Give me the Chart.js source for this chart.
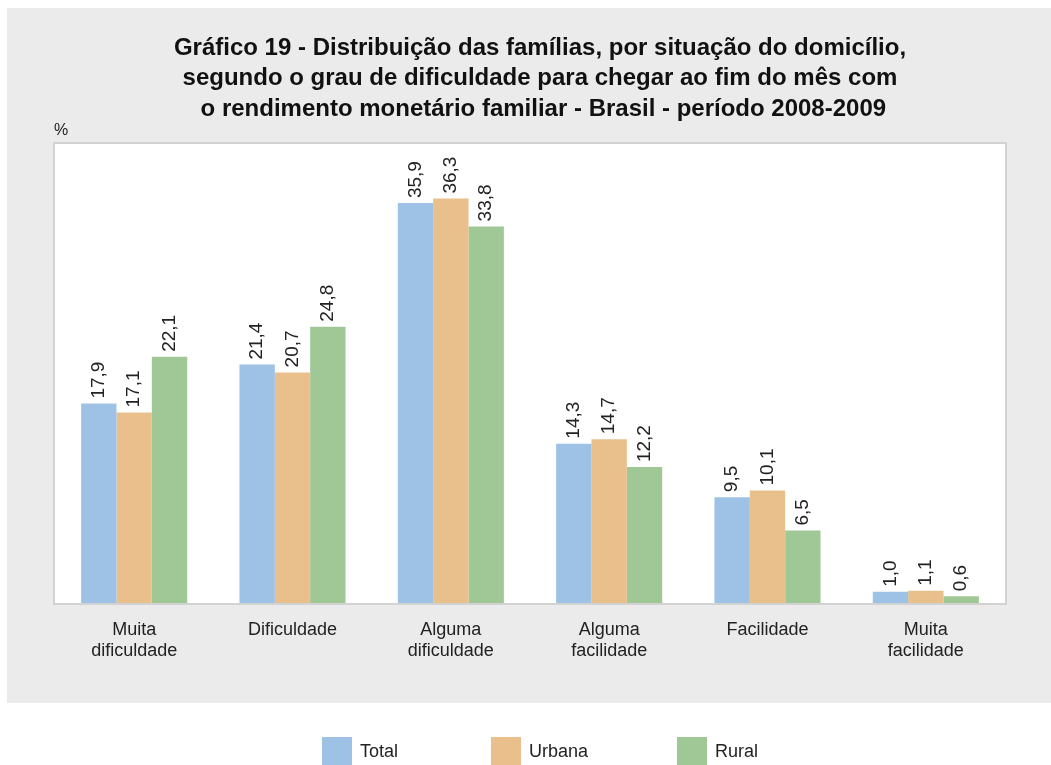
<!DOCTYPE html>
<html>
<head>
<meta charset="utf-8">
<script src="https://cdn.jsdelivr.net/npm/chart.js@4"></script>
<style>
  html, body { margin: 0; padding: 0; background: #fff; }
  #wrap { width: 1051px; height: 765px; position: relative; }
</style>
</head>
<body>
<div id="wrap"><canvas id="barChart" width="1051" height="765"></canvas></div>
<script>
// data
var categories = [["Muita", "dificuldade"], "Dificuldade", ["Alguma", "dificuldade"], ["Alguma", "facilidade"], "Facilidade", ["Muita", "facilidade"]];
var totalValues  = [17.9, 21.4, 35.9, 14.3, 9.5, 1.0];
var urbanaValues = [17.1, 20.7, 36.3, 14.7, 10.1, 1.1];
var ruralValues  = [22.1, 24.8, 33.8, 12.2, 6.5, 0.6];
var seriesNames  = ["Total", "Urbana", "Rural"];
var titleLines = [
    "Gráfico 19 - Distribuição das famílias, por situação do domicílio,",
    "segundo o grau de dificuldade para chegar ao fim do mês com",
    " o rendimento monetário familiar - Brasil - período 2008-2009"
];

var FONT = "'Liberation Sans', Arial, sans-serif";
var legendX = [322, 491, 677];

// gray panel, white plot box, title and % label
var panelPlugin = {
    id: 'panel',
    beforeDraw: function (chart) {
        var ctx = chart.ctx;
        var a = chart.chartArea;
        ctx.save();
        ctx.fillStyle = '#ebebeb';
        ctx.fillRect(7, 8, 1044, 695);
        ctx.fillStyle = '#ffffff';
        ctx.fillRect(a.left, a.top, a.right - a.left, a.bottom - a.top);
        ctx.strokeStyle = '#d2d2d2';
        ctx.lineWidth = 2;
        ctx.strokeRect(a.left - 1, a.top - 1, a.right - a.left + 2, a.bottom - a.top + 2);

        ctx.fillStyle = '#111';
        ctx.font = 'bold 24px ' + FONT;
        ctx.textAlign = 'center';
        ctx.textBaseline = 'middle';
        for (var i = 0; i < titleLines.length; i++) {
            ctx.fillText(titleLines[i], 540, 48 + i * 30.5);
        }
        ctx.font = '16px ' + FONT;
        ctx.textAlign = 'left';
        ctx.fillStyle = '#222';
        ctx.fillText('%', 54, 131);
        ctx.restore();
    },
    afterDraw: function (chart) {
        // legend below the gray panel
        var ctx = chart.ctx;
        ctx.save();
        ctx.font = '18px ' + FONT;
        ctx.textAlign = 'left';
        ctx.textBaseline = 'middle';
        chart.data.datasets.forEach(function (ds, i) {
            ctx.fillStyle = ds.backgroundColor;
            ctx.fillRect(legendX[i], 737, 30, 28);
            ctx.fillStyle = '#222';
            ctx.fillText(ds.label, legendX[i] + 38, 752);
        });
        ctx.restore();
    }
};

// vertical value labels over each bar
var valueLabels = {
    id: 'valueLabels',
    afterDatasetsDraw: function (chart) {
        var ctx = chart.ctx;
        ctx.save();
        ctx.font = '19px ' + FONT;
        ctx.fillStyle = '#222';
        ctx.textAlign = 'left';
        ctx.textBaseline = 'middle';
        chart.data.datasets.forEach(function (ds, i) {
            chart.getDatasetMeta(i).data.forEach(function (bar, j) {
                var txt = ds.data[j].toFixed(1).replace('.', ',');
                ctx.save();
                ctx.translate(bar.x, bar.y - 5);
                ctx.rotate(-Math.PI / 2);
                ctx.fillText(txt, 0, 0);
                ctx.restore();
            });
        });
        ctx.restore();
    }
};

var ctx = document.getElementById('barChart').getContext('2d');
new Chart(ctx, {
    type: 'bar',
    data: {
        labels: categories,
        datasets: [{
            label: seriesNames[0],
            data: totalValues,
            backgroundColor: '#9dc2e6'
        }, {
            label: seriesNames[1],
            data: urbanaValues,
            backgroundColor: '#e9c08b'
        }, {
            label: seriesNames[2],
            data: ruralValues,
            backgroundColor: '#a0c796'
        }]
    },
    options: {
        responsive: false,
        animation: false,
        layout: {
            padding: { top: 144, left: 55, right: 46, bottom: 0 }
        },
        datasets: {
            bar: { categoryPercentage: 0.67, barPercentage: 1.0 }
        },
        scales: {
            x: {
                grid: { display: false, drawTicks: false },
                border: { display: false },
                ticks: {
                    color: '#222',
                    font: { family: FONT, size: 18, lineHeight: 1.2 },
                    padding: 16,
                    maxRotation: 0
                },
                afterFit: function (scale) { scale.height = 162; }
            },
            y: {
                display: false,
                min: 0,
                max: 41.2
            }
        },
        plugins: {
            legend: { display: false },
            tooltip: { enabled: false }
        }
    },
    plugins: [panelPlugin, valueLabels]
});
</script>
</body>
</html>
